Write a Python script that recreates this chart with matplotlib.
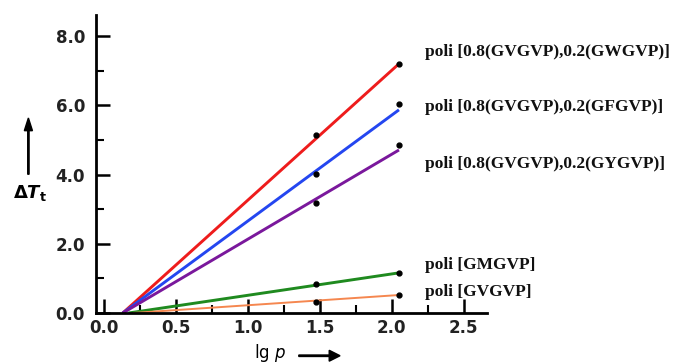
import matplotlib.pyplot as plt
from matplotlib.ticker import MultipleLocator
from matplotlib.patches import FancyArrow

# measured points (lg p, delta T_t)
x_points = [1.47, 2.05]
labels = ['poli [0.8(GVGVP),0.2(GWGVP)]',
          'poli [0.8(GVGVP),0.2(GFGVP)]',
          'poli [0.8(GVGVP),0.2(GYGVP)]',
          'poli [GMGVP]',
          'poli [GVGVP]']
y_points = [[5.14, 7.20],
            [4.02, 6.04],
            [3.18, 4.86],
            [0.84, 1.16],
            [0.32, 0.52]]
# fitted lines: start on the x axis, end at lg p = 2.05
fit_x0 = [0.13, 0.13, 0.13, 0.17, 0.20]
fit_x1 = 2.05
fit_y1 = [7.20, 5.87, 4.71, 1.16, 0.52]
colors = ['#ee1c1c', '#2446f0', '#7a189c', '#1f8a1f', '#f5874f']
label_y = [7.55, 5.95, 4.30, 1.40, 0.62]

fig = plt.figure(figsize=(6.76, 3.63), dpi=100)
ax = fig.add_axes([0.142, 0.1377, 0.578, 0.821])

for i in range(len(labels)):
    lw = 1.4 if i == 4 else 2.1
    ax.plot([fit_x0[i], fit_x1], [0, fit_y1[i]], color=colors[i], lw=lw,
            solid_capstyle='butt', zorder=2)
    ax.plot(x_points, y_points[i], 'o', color='black', ms=3.5, zorder=3)
    ax.text(2.23, label_y[i], labels[i], family='Liberation Serif',
            fontweight='bold', fontsize=12.5, va='center', ha='left',
            color='#111111', clip_on=False)

ax.set_xlim(-0.056, 2.66)
ax.set_ylim(0, 8.61)
ax.xaxis.set_minor_locator(MultipleLocator(0.25))
ax.yaxis.set_minor_locator(MultipleLocator(1.0))
ax.set_xticks([0.0, 0.5, 1.0, 1.5, 2.0, 2.5])
ax.set_xticklabels(['0.0', '0.5', '1.0', '1.5', '2.0', '2.5'])
ax.set_yticks([0.0, 2.0, 4.0, 6.0, 8.0])
ax.set_yticklabels(['0.0', '2.0', '4.0', '6.0', '8.0'])

for s in ['top', 'right']:
    ax.spines[s].set_visible(False)
for s in ['left', 'bottom']:
    ax.spines[s].set_linewidth(2.0)

ax.tick_params(which='major', direction='in', length=10, width=1.8,
               labelsize=12, pad=4)
ax.tick_params(axis='y', which='major', pad=8)
ax.tick_params(which='minor', direction='in', length=6, width=1.5)
for t in ax.get_xticklabels() + ax.get_yticklabels():
    t.set_fontweight('bold')
    t.set_family('DejaVu Sans')
    t.set_color('#222222')

# axis titles with arrows
fig.text(0.045, 0.468, r'$\mathbf{\Delta}\boldsymbol{T}_{\mathbf{t}}$', fontsize=13,
         ha='center', va='center')
fig.patches.append(FancyArrow(
    0.042, 0.52, 0, 0.12, width=0.002, head_width=0.012, head_length=0.035,
    color='black', transform=fig.transFigure, figure=fig))
fig.text(0.40, 0.028, r'lg $\it{p}$', fontsize=12, ha='center', va='center')
fig.patches.append(FancyArrow(
    0.442, 0.02, 0.045, 0, width=0.004, head_width=0.03, head_length=0.016,
    color='black', transform=fig.transFigure, figure=fig))

fig.savefig('out.png', dpi=100)
